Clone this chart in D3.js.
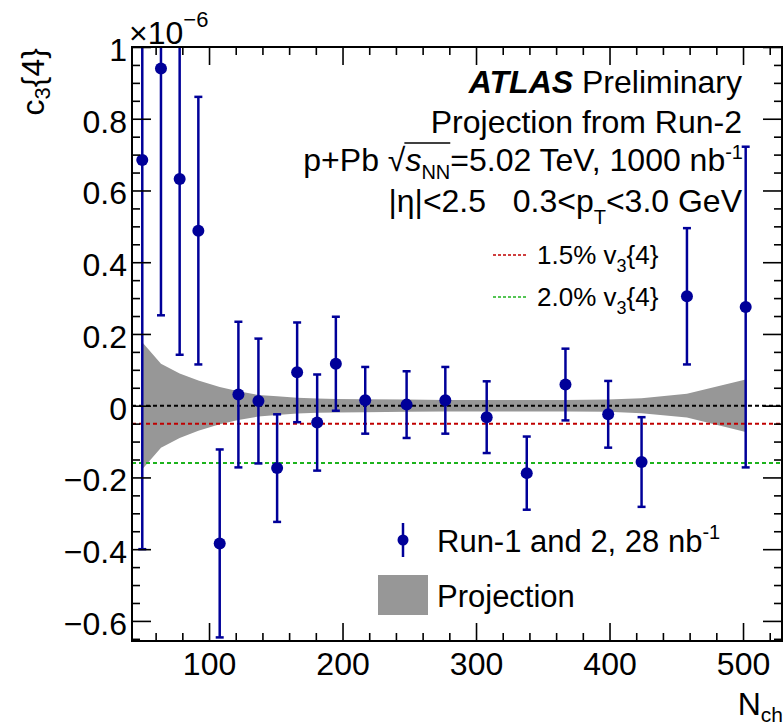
<!DOCTYPE html>
<html>
<head>
<meta charset="utf-8">
<script src="https://cdn.jsdelivr.net/npm/d3@7"></script>
<style>
    body { margin: 0; background: #fff; }
    svg { display: block; font-family: "Liberation Sans", Arial, sans-serif; }
    text { white-space: pre; }
</style>
</head>
<body>
<svg id="chart"></svg>
<script>
// c3{4} vs Nch, values in units of 1e-6
const nch = [50, 64, 78, 92, 108, 122, 137, 151, 166, 181, 195, 217, 248, 277, 308, 338, 367, 399, 424, 458, 502];
const c34 = [0.685, 0.940, 0.632, 0.488, -0.384, 0.031, 0.013, -0.174, 0.093, -0.047, 0.117, 0.015, 0.003, 0.015, -0.032, -0.188, 0.059, -0.024, -0.157, 0.305, 0.275];
const c34Err = [1.085, 0.688, 0.490, 0.373, 0.262, 0.203, 0.174, 0.150, 0.139, 0.134, 0.131, 0.093, 0.093, 0.093, 0.100, 0.102, 0.100, 0.093, 0.125, 0.190, 0.447];
// projected uncertainty band (half width around zero)
const projErr = [0.177, 0.117, 0.090, 0.070, 0.052, 0.040, 0.030, 0.026, 0.022, 0.020, 0.019, 0.018, 0.017, 0.016, 0.016, 0.016, 0.016, 0.017, 0.021, 0.033, 0.073];

const refLevels = [0, -0.0506, -0.16];
const refColors = ["#000000", "#c00000", "#1db31d"];
const refLabels = ["1.5% v", "2.0% v"];

const xMajor = [100, 200, 300, 400, 500];
const yMajor = [-0.6, -0.4, -0.2, 0, 0.2, 0.4, 0.6, 0.8, 1];

const W = 784, H = 725;
const margin = { top: 47, right: 2, bottom: 84, left: 132 };
const w = W - margin.left - margin.right;
const h = H - margin.top - margin.bottom;

const blue = "#000099";
const gray = "#979797";

const svg = d3.select("#chart").attr("width", W).attr("height", H);

const x = d3.scaleLinear().domain([42.3, 529.2]).range([margin.left, margin.left + w]);
const y = d3.scaleLinear().domain([-0.656, 1.0]).range([margin.top + h, margin.top]);

svg.append("defs").append("clipPath").attr("id", "plot")
    .append("rect")
    .attr("x", margin.left).attr("y", margin.top)
    .attr("width", w).attr("height", h);

const data = nch.map((n, i) => ({ n: n, v: c34[i], e: c34Err[i], p: projErr[i] }));

const plot = svg.append("g").attr("clip-path", "url(#plot)");

// projection band
const band = d3.area()
    .x(d => x(d.n))
    .y0(d => y(-d.p))
    .y1(d => y(d.p));

plot.append("path")
    .datum(data)
    .attr("d", band)
    .attr("fill", gray);

// reference levels
plot.selectAll(".ref").data(refLevels)
    .enter()
    .append("line")
    .attr("x1", margin.left).attr("x2", margin.left + w)
    .attr("y1", d => y(d)).attr("y2", d => y(d))
    .attr("stroke", (d, i) => refColors[i])
    .attr("stroke-width", 2)
    .attr("stroke-dasharray", "4,3");

// error bars
const pts = plot.selectAll(".pt").data(data).enter().append("g");
pts.append("line")
    .attr("x1", d => x(d.n)).attr("x2", d => x(d.n))
    .attr("y1", d => y(d.v - d.e)).attr("y2", d => y(d.v + d.e))
    .attr("stroke", blue).attr("stroke-width", 2.5);
pts.append("line")
    .attr("x1", d => x(d.n) - 4).attr("x2", d => x(d.n) + 4)
    .attr("y1", d => y(d.v - d.e)).attr("y2", d => y(d.v - d.e))
    .attr("stroke", blue).attr("stroke-width", 2.5);
pts.append("line")
    .attr("x1", d => x(d.n) - 4).attr("x2", d => x(d.n) + 4)
    .attr("y1", d => y(d.v + d.e)).attr("y2", d => y(d.v + d.e))
    .attr("stroke", blue).attr("stroke-width", 2.5);
pts.append("circle")
    .attr("cx", d => x(d.n)).attr("cy", d => y(d.v))
    .attr("r", 6)
    .attr("fill", blue);

// axes, ROOT style: ticks inside on all four sides
const xMinor = d3.range(60, 529, 20).filter(v => v % 100 !== 0);
const yMinor = d3.range(-13, 21).map(k => +(k * 0.05).toFixed(2)).filter(v => Math.abs(v * 5 - Math.round(v * 5)) > 1e-6);

function styleAxis(g) {
    g.select(".domain").remove();
    g.selectAll("line").attr("stroke", "#000").attr("stroke-width", 1.6);
    g.attr("font-family", null).attr("font-size", 32);
    g.selectAll("text").attr("fill", "#000");
}

const yfmt = d3.format(".1~f");

svg.append("g").attr("transform", `translate(${margin.left},0)`)
    .call(d3.axisLeft(y).tickValues(yMajor).tickSize(-19).tickPadding(5).tickFormat(yfmt))
    .call(styleAxis)
    .selectAll("text").attr("dy", "0.42em");
svg.append("g").attr("transform", `translate(${margin.left},0)`)
    .call(d3.axisLeft(y).tickValues(yMinor).tickSize(-8).tickFormat(""))
    .call(styleAxis);
svg.append("g").attr("transform", `translate(${margin.left + w},0)`)
    .call(d3.axisRight(y).tickValues(yMajor).tickSize(-19).tickFormat(""))
    .call(styleAxis);
svg.append("g").attr("transform", `translate(${margin.left + w},0)`)
    .call(d3.axisRight(y).tickValues(yMinor).tickSize(-8).tickFormat(""))
    .call(styleAxis);

svg.append("g").attr("transform", `translate(0,${margin.top + h})`)
    .call(d3.axisBottom(x).tickValues(xMajor).tickSize(-18).tickFormat(d3.format("d")))
    .call(styleAxis)
    .selectAll("text").attr("y", 34).attr("dy", null);
svg.append("g").attr("transform", `translate(0,${margin.top + h})`)
    .call(d3.axisBottom(x).tickValues(xMinor).tickSize(-8).tickFormat(""))
    .call(styleAxis);
svg.append("g").attr("transform", `translate(0,${margin.top})`)
    .call(d3.axisTop(x).tickValues(xMajor).tickSize(-18).tickFormat(""))
    .call(styleAxis);
svg.append("g").attr("transform", `translate(0,${margin.top})`)
    .call(d3.axisTop(x).tickValues(xMinor).tickSize(-8).tickFormat(""))
    .call(styleAxis);

// frame
svg.append("rect")
    .attr("x", margin.left).attr("y", margin.top)
    .attr("width", w).attr("height", h)
    .attr("fill", "none").attr("stroke", "#000").attr("stroke-width", 2);

// axis titles
const yt = svg.append("text")
    .attr("transform", `translate(44,${margin.top + 1}) rotate(-90)`)
    .attr("text-anchor", "end")
    .attr("font-size", 32);
yt.append("tspan").text("c");
yt.append("tspan").attr("font-size", 22).attr("dy", 6).text("3");
yt.append("tspan").attr("dy", -6).text("{4}");

const xt = svg.append("text")
    .attr("x", 783).attr("y", 715)
    .attr("text-anchor", "end")
    .attr("font-size", 32);
xt.append("tspan").text("N");
xt.append("tspan").attr("font-size", 21).attr("dy", 7).text("ch");

const ex = svg.append("text").attr("x", 129).attr("y", 44).attr("font-size", 32);
ex.append("tspan").text("×10");
ex.append("tspan").attr("font-size", 22).attr("dy", -17).text("−6");

// labels block
const t1 = svg.append("text").attr("x", 742).attr("y", 93).attr("text-anchor", "end").attr("font-size", 32);
t1.append("tspan").attr("font-weight", "bold").attr("font-style", "italic").text("ATLAS");
t1.append("tspan").text(" Preliminary");

svg.append("text").attr("x", 742).attr("y", 133).attr("text-anchor", "end").attr("font-size", 32)
    .text("Projection from Run-2");

const t3 = svg.append("text").attr("x", 743).attr("y", 171).attr("text-anchor", "end").attr("font-size", 32);
t3.append("tspan").text("p+Pb ");
t3.append("tspan").text("√");
t3.append("tspan").attr("font-style", "italic").text("s");
t3.append("tspan").attr("font-size", 20).attr("dy", 8).text("NN");
t3.append("tspan").attr("dy", -8).text("=5.02 TeV, 1000 nb");
t3.append("tspan").attr("font-size", 20).attr("dy", -12).text("-1");
const n3 = t3.node();
const ox1 = n3.getEndPositionOfChar(5).x - 1;
const ox2 = n3.getEndPositionOfChar(8).x;
svg.append("line")
    .attr("x1", ox1).attr("x2", ox2).attr("y1", 143).attr("y2", 143)
    .attr("stroke", "#000").attr("stroke-width", 1.5);

const t4 = svg.append("text").attr("x", 742).attr("y", 212).attr("text-anchor", "end").attr("font-size", 32);
t4.append("tspan").text("|η|<2.5   0.3<p");
t4.append("tspan").attr("font-size", 20).attr("dy", 12).text("T");
t4.append("tspan").attr("dy", -12).text("<3.0 GeV");

// reference line legend
refLabels.forEach((lab, i) => {
    const ly = 255 + i * 42;
    svg.append("line")
        .attr("x1", 493).attr("x2", 527).attr("y1", ly).attr("y2", ly)
        .attr("stroke", refColors[i + 1]).attr("stroke-width", 1.5)
        .attr("stroke-dasharray", "3,2");
    const lt = svg.append("text").attr("x", 537).attr("y", ly + 9).attr("font-size", 26);
    lt.append("tspan").text(lab);
    lt.append("tspan").attr("font-size", 18).attr("dy", 8).text("3");
    lt.append("tspan").attr("dy", -8).text("{4}");
});

// data / projection legend
svg.append("line")
    .attr("x1", 403).attr("x2", 403).attr("y1", 523).attr("y2", 557)
    .attr("stroke", blue).attr("stroke-width", 2.5);
svg.append("circle").attr("cx", 403).attr("cy", 540).attr("r", 5.5).attr("fill", blue);
const lg1 = svg.append("text").attr("x", 437).attr("y", 552).attr("font-size", 31);
lg1.append("tspan").text("Run-1 and 2, 28 nb");
lg1.append("tspan").attr("font-size", 20).attr("dy", -13).text("-1");

svg.append("rect")
    .attr("x", 378).attr("y", 575).attr("width", 50).attr("height", 40)
    .attr("fill", gray);
svg.append("text").attr("x", 437).attr("y", 607).attr("font-size", 31).text("Projection");
</script>
</body>
</html>
